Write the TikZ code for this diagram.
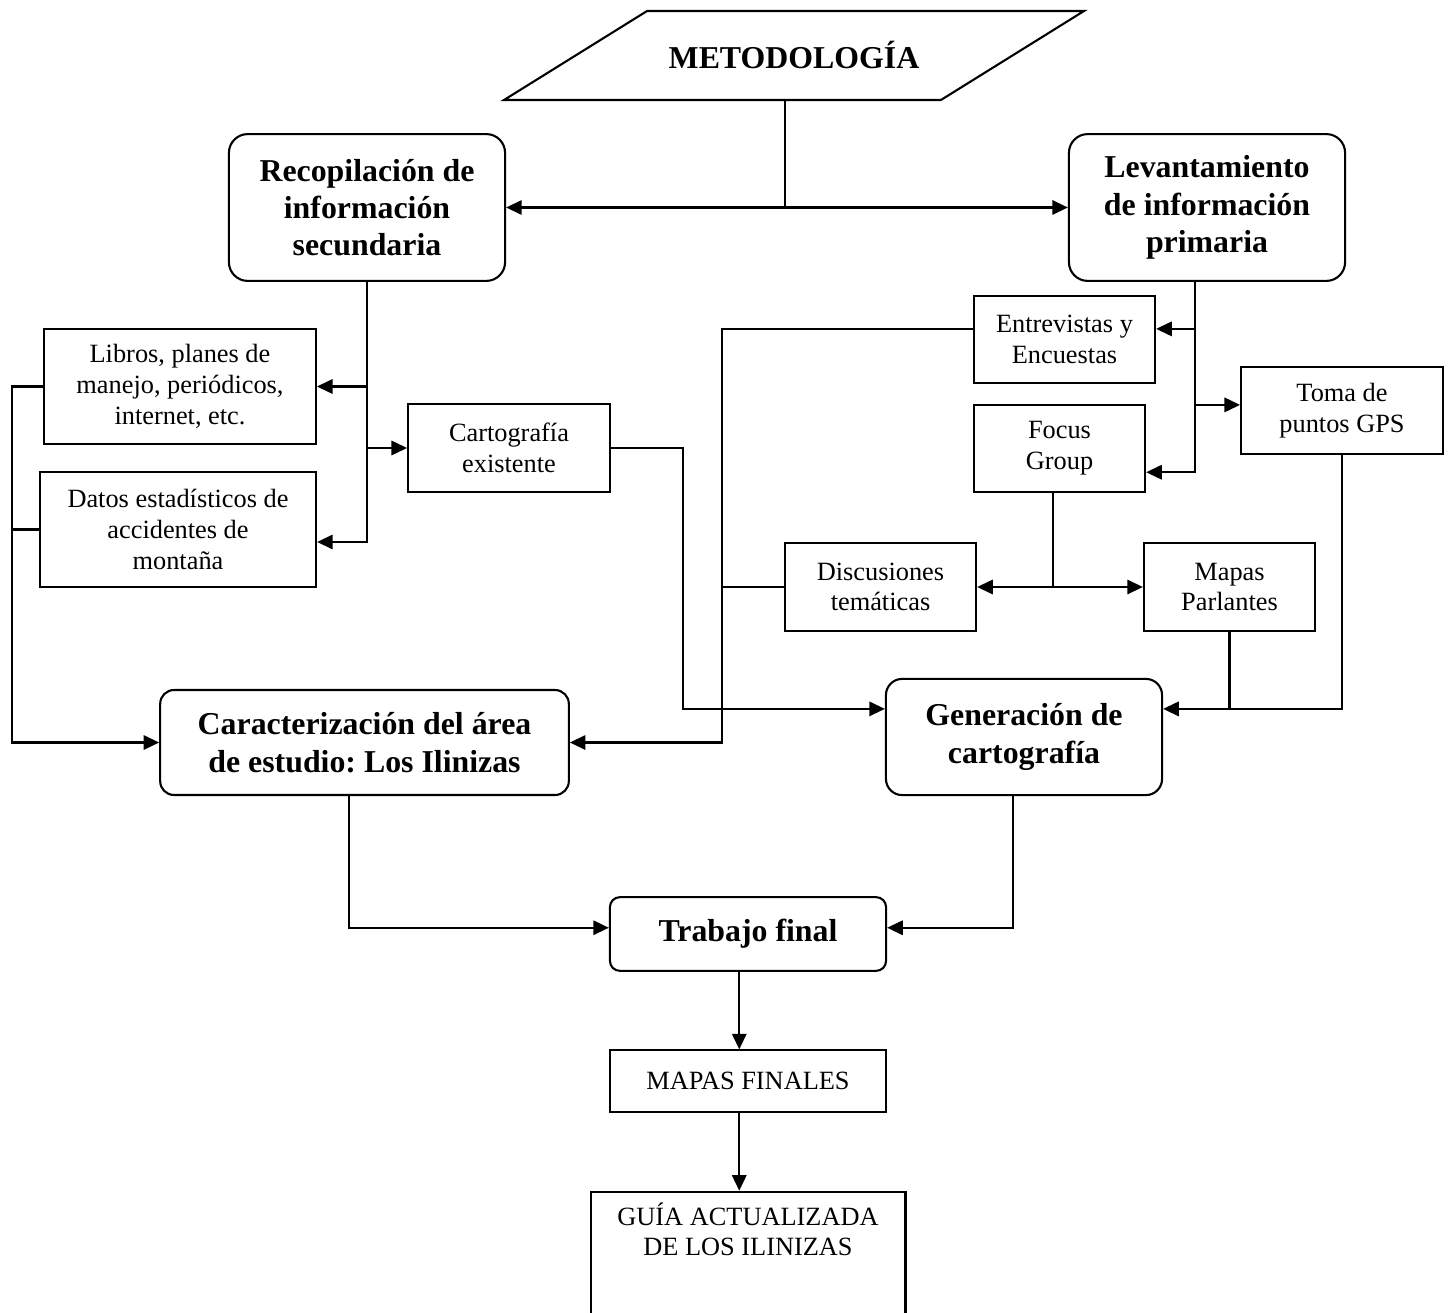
\documentclass[tikz,border=0pt]{standalone}
\usepackage{fontspec}
\setmainfont{Liberation Serif}
\frenchspacing
\usetikzlibrary{positioning,arrows.meta,shapes.geometric}

\begin{document}
\begin{tikzpicture}[x=0.016cm, y=-0.016cm,
			>={Triangle[length=0.25cm,width=0.23cm]},
			line width=0.95pt,
			node distance=1.24cm,
			every node/.style={
				draw,
				align=center,
				inner sep=0pt},
			box/.style={
				font=\fontsize{12}{14}\selectfont},
			bigbox/.style={
				rounded corners=0.3cm,
				font=\fontsize{14.5}{17}\selectfont\bfseries}]
			
			\useasboundingbox (0,0) rectangle (1453,1313);
			
			\node (metod)[draw=none, minimum width=6.96cm, minimum height=1.39cm,
				font=\fontsize{14.5}{17}\selectfont\bfseries] at (794,55.5){METODOLOGÍA};
			\draw ([xshift=-1.144cm]metod.south west)--([xshift=1.144cm]metod.north west)
				--([xshift=1.144cm]metod.north east)--([xshift=-1.144cm]metod.south east)--cycle;
			
			\node (recop)[bigbox, minimum width=4.42cm, minimum height=2.35cm] at (367,207.5){Recopilación de\\información\\secundaria};
			
			\node (lev)[bigbox, minimum width=4.42cm, minimum height=2.35cm] at (1207,207.5){Levantamiento\\de información\\primaria};
			
			\node (libros)[box, minimum width=4.35cm, minimum height=1.84cm] at (180,386.5){Libros, planes de\\manejo, periódicos,\\internet, etc.};
			
			\node (datos)[box, minimum width=4.42cm, minimum height=1.84cm] at (178,529.5){Datos estadísticos de\\accidentes de\\montaña};
			
			\node (carto)[box, minimum width=3.23cm, minimum height=1.41cm] at (509,448){Cartografía\\existente};
			
			\node (entrev)[box, minimum width=2.9cm, minimum height=1.39cm] at (1064.5,339.5){Entrevistas y\\Encuestas};
			
			\node (focus)[box, minimum width=2.74cm, minimum height=1.39cm] at (1059.5,448.5){Focus\\Group};
			
			\node (toma)[box, minimum width=3.23cm, minimum height=1.39cm] at (1342,410.5){Toma de\\puntos GPS};
			
			\node (discus)[box, minimum width=3.06cm, minimum height=1.41cm] at (880.5,587){Discusiones\\temáticas};
			
			\node (mapas)[box, minimum width=2.74cm, minimum height=1.41cm] at (1229.5,587){Mapas\\Parlantes};
			
			\node (caract)[bigbox, rounded corners=0.22cm, minimum width=6.54cm, minimum height=1.68cm] at (364.5,742.5){Caracterización del área\\de estudio: Los Ilinizas};
			
			\node (gener)[bigbox, rounded corners=0.26cm, minimum width=4.42cm, minimum height=1.86cm] at (1024,737){Generación de\\cartografía};
			
			\node (trabajo)[bigbox, rounded corners=0.16cm, minimum width=4.42cm, minimum height=1.18cm] at (748,934){Trabajo final};
			
			\node (mapasfin)[box, below=of trabajo, minimum width=4.42cm, minimum height=0.98cm]{MAPAS FINALES};
			
			\node (guia)[box, below=1.25cm of mapasfin, minimum width=5.04cm, inner sep=0.17cm, text depth=2.6cm]{GUÍA ACTUALIZADA\\DE LOS ILINIZAS};
			
			% buses
			\coordinate (lbus) at (12,0);
			\coordinate (cbus) at (683,0);
			\coordinate (ebus) at (722,0);
			\coordinate (msrc) at ([xshift=-0.14cm]metod.south);
			\coordinate (lsrc) at ([xshift=-0.19cm]lev.south);
			\coordinate (fsrc) at ([xshift=-0.1cm]focus.south);
			\coordinate (entin) at ([yshift=0.17cm]entrev.east);
			\coordinate (entout) at ([yshift=0.17cm]entrev.west);
			\coordinate (tomain) at ([yshift=0.09cm]toma.west);
			\coordinate (focin) at ([yshift=-0.38cm]focus.east);
			\coordinate (datin) at ([yshift=-0.2cm]datos.east);
			\coordinate (genin) at ([yshift=0.45cm]gener.west);
			\coordinate (genin2) at ([yshift=0.45cm]gener.east);
			\coordinate (trin) at ([yshift=0.1cm]trabajo.west);
			\coordinate (trin2) at ([yshift=0.1cm]trabajo.east);
			
			\draw (msrc)--(msrc |- recop.east);
			
			\draw[<->](recop.east)--(lev.west);
			
			\draw[->](recop.south) |- (datin);
			
			\draw[->](recop.south |- libros.east)--(libros.east);
			
			\draw[->](recop.south |- carto.west)--(carto.west);
			
			\draw[->](libros.west)--(libros.west -| lbus) |- (caract.west);
			
			\draw (datos.west)--(datos.west -| lbus);
			
			\draw[->](carto.east)--(carto.east -| cbus) |- (genin);
			
			\draw[->](entout) -| (ebus |- caract.east)--(caract.east);
			
			\draw (discus.west)--(discus.west -| ebus);
			
			\draw[->](lsrc) |- (focin);
			
			\draw[->](lsrc |- entin)--(entin);
			
			\draw[->](lsrc |- tomain)--(tomain);
			
			\draw (fsrc)--(fsrc |- discus.east);
			
			\draw[<->](discus.east)--(mapas.west);
			
			\draw[->](toma.south) |- (genin2);
			
			\draw (mapas.south)--(mapas.south |- genin2);
			
			\draw[->]([xshift=-0.25cm]caract.south) |- (trin);
			
			\draw[->]([xshift=-0.18cm]gener.south) |- (trin2);
			
			\draw[->]([xshift=-0.14cm]trabajo.south)--([xshift=-0.14cm]mapasfin.north);
			
			\draw[->]([xshift=-0.14cm]mapasfin.south)--([xshift=-0.14cm]mapasfin.south |- guia.north);
			
		\end{tikzpicture}
\end{document}
